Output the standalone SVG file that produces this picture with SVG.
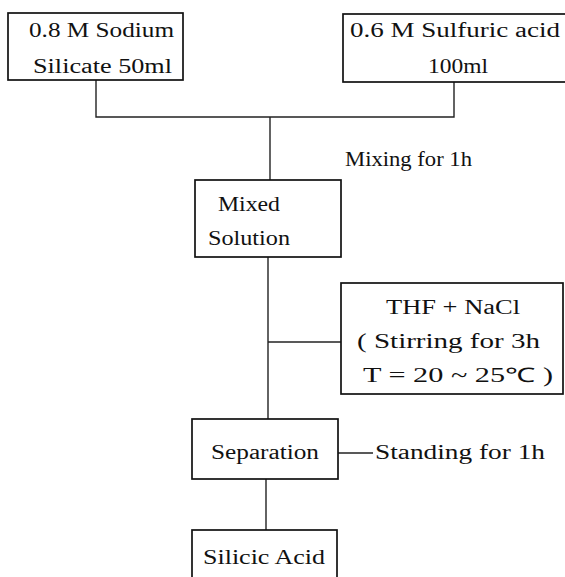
<svg xmlns="http://www.w3.org/2000/svg" width="565" height="577" viewBox="0 0 565 577">
<style>
.box{fill:#fff;stroke:#111;stroke-width:1.7}
.ln{fill:none;stroke:#222;stroke-width:1.4}
text{font-family:"Liberation Serif","Times New Roman",serif;font-size:20px;fill:#111}
</style>
<rect width="565" height="577" fill="#fff"/>
<g id="connectors">
<path class="ln" d="M96 80 V117 H454 V82"/>
<path class="ln" d="M270 117 V180"/>
<path class="ln" d="M268 257 V419"/>
<path class="ln" d="M268 342 H341"/>
<path class="ln" d="M338 453 H373"/>
<path class="ln" d="M266 479 V530"/>
</g>
<g id="sodium">
<rect class="box" x="8" y="13" width="175" height="67"/>
<text x="29" y="37" textLength="145" lengthAdjust="spacingAndGlyphs">0.8 M Sodium</text>
<text x="33" y="73" textLength="139" lengthAdjust="spacingAndGlyphs">Silicate 50ml</text>
</g>
<g id="sulfuric">
<rect class="box" x="343" y="14" width="230" height="68"/>
<text x="350" y="37" textLength="210" lengthAdjust="spacingAndGlyphs">0.6 M Sulfuric acid</text>
<text x="428" y="73" textLength="60" lengthAdjust="spacingAndGlyphs">100ml</text>
</g>
<g id="mixing">
<text x="345" y="166" textLength="127" lengthAdjust="spacingAndGlyphs">Mixing for 1h</text>
</g>
<g id="mixed">
<rect class="box" x="195" y="180" width="146" height="77"/>
<text x="218" y="211" textLength="62" lengthAdjust="spacingAndGlyphs">Mixed</text>
<text x="208" y="245" textLength="82" lengthAdjust="spacingAndGlyphs">Solution</text>
</g>
<g id="thf">
<rect class="box" x="341" y="283" width="222" height="111"/>
<text x="386" y="314" textLength="134" lengthAdjust="spacingAndGlyphs">THF + NaCl</text>
<text x="357" y="348" textLength="183" lengthAdjust="spacingAndGlyphs">( Stirring for 3h</text>
<text x="363" y="382" textLength="190" lengthAdjust="spacingAndGlyphs">T = 20 ~ 25℃ )</text>
</g>
<g id="separation">
<rect class="box" x="192" y="419" width="146" height="60"/>
<text x="211" y="459" textLength="108" lengthAdjust="spacingAndGlyphs">Separation</text>
</g>
<g id="standing">
<text x="375" y="459" textLength="170" lengthAdjust="spacingAndGlyphs">Standing for 1h</text>
</g>
<g id="silicic">
<rect class="box" x="192" y="530" width="145" height="60"/>
<text x="203" y="564" textLength="122" lengthAdjust="spacingAndGlyphs">Silicic Acid</text>
</g>
</svg>
